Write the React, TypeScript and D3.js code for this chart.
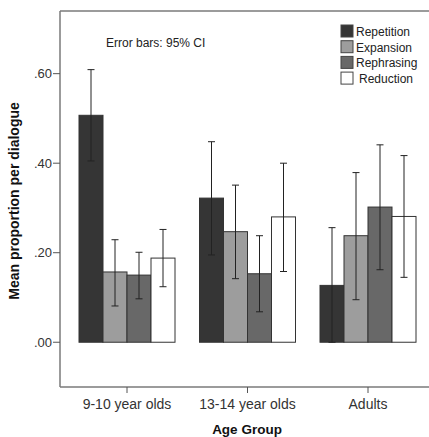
import React, { useEffect, useRef } from 'react'
import * as d3 from 'd3'

const groups = ['9-10 year olds', '13-14 year olds', 'Adults']
const series = ['Repetition', 'Expansion', 'Rephrasing', 'Reduction']
const colors = ['#353535', '#9d9d9d', '#686868', '#ffffff']

// means per group, one array per series
const repetition = [0.507, 0.322, 0.127]
const expansion = [0.157, 0.247, 0.238]
const rephrasing = [0.15, 0.153, 0.302]
const reduction = [0.188, 0.28, 0.281]

// 95% CI low / high
const ciLow = [
    [0.405, 0.195, 0.0],
    [0.081, 0.142, 0.095],
    [0.097, 0.068, 0.162],
    [0.124, 0.158, 0.145],
]
const ciHigh = [
    [0.609, 0.448, 0.256],
    [0.229, 0.351, 0.379],
    [0.201, 0.238, 0.441],
    [0.252, 0.4, 0.417],
]

const yTicks = [0, 0.2, 0.4, 0.6]

export default function App() {
    const svgRef = useRef<SVGSVGElement>(null)

    useEffect(() => {
        const width = 429
        const height = 437
        const left = 60
        const top = 11
        const bottom = 387
        const font = 'Liberation Sans, Arial, sans-serif'

        const svg = d3.select(svgRef.current)
        svg.selectAll('*').remove()
        svg.attr('width', width).attr('height', height)

        const means = [repetition, expansion, rephrasing, reduction]
        const rows: any[] = []
        series.forEach((s, si) => {
            groups.forEach((g, gi) => {
                rows.push({ s, si, g, v: means[si][gi], lo: ciLow[si][gi], hi: ciHigh[si][gi] })
            })
        })

        const x = d3.scalePoint().domain(groups).range([127, 368])
        const xInner = d3.scaleBand().domain(series).range([-48, 48])
        const y = d3.scaleLinear().domain([-0.1, 0.74]).range([bottom, top])

        // frame
        const frame = svg.append('g').attr('stroke', '#7a7a7a').attr('stroke-width', 1.5)
        frame.append('line').attr('x1', left).attr('x2', width).attr('y1', top).attr('y2', top)
        frame.append('line').attr('x1', left).attr('x2', left).attr('y1', top).attr('y2', bottom)
        frame.append('line').attr('x1', left).attr('x2', width).attr('y1', bottom).attr('y2', bottom)

        // y ticks
        const yt = svg.append('g')
        yTicks.forEach((t) => {
            yt.append('line')
                .attr('x1', left - 7).attr('x2', left)
                .attr('y1', y(t)).attr('y2', y(t))
                .attr('stroke', '#555').attr('stroke-width', 1)
            yt.append('text')
                .attr('x', left - 8).attr('y', y(t) + 4.5)
                .attr('text-anchor', 'end')
                .attr('font-family', font).attr('font-size', 13)
                .attr('fill', '#333')
                .text(d3.format('.2f')(t).replace(/^0/, ''))
        })

        // x ticks
        groups.forEach((g) => {
            svg.append('line')
                .attr('x1', x(g)!).attr('x2', x(g)!)
                .attr('y1', bottom).attr('y2', bottom + 6)
                .attr('stroke', '#555')
            svg.append('text')
                .attr('x', x(g)!).attr('y', 409)
                .attr('text-anchor', 'middle')
                .attr('font-family', font).attr('font-size', 14)
                .attr('fill', '#333')
                .text(g)
        })

        // bars
        svg.append('g')
            .selectAll('rect')
            .data(rows)
            .enter()
            .append('rect')
            .attr('x', (d) => x(d.g)! + xInner(d.s)!)
            .attr('y', (d) => y(d.v))
            .attr('width', xInner.bandwidth())
            .attr('height', (d) => y(0) - y(d.v))
            .attr('fill', (d) => colors[d.si])
            .attr('stroke', '#333')
            .attr('stroke-width', 1)

        // error bars
        const eb = svg.append('g').attr('stroke', '#222').attr('stroke-width', 1)
        rows.forEach((d) => {
            const cx = x(d.g)! + xInner(d.s)! + xInner.bandwidth() / 2
            eb.append('line').attr('x1', cx).attr('x2', cx).attr('y1', y(d.lo)).attr('y2', y(d.hi))
            eb.append('line').attr('x1', cx - 3.5).attr('x2', cx + 3.5).attr('y1', y(d.lo)).attr('y2', y(d.lo))
            eb.append('line').attr('x1', cx - 3.5).attr('x2', cx + 3.5).attr('y1', y(d.hi)).attr('y2', y(d.hi))
        })

        // annotation
        svg.append('text')
            .attr('x', 106).attr('y', 47)
            .attr('font-family', font).attr('font-size', 12)
            .attr('fill', '#222')
            .text('Error bars: 95% CI')

        // legend
        const lg = svg.append('g')
        series.forEach((s, i) => {
            lg.append('rect')
                .attr('x', 341).attr('y', 25 + i * 15.7)
                .attr('width', 12).attr('height', 12)
                .attr('fill', colors[i])
                .attr('stroke', '#444')
            lg.append('text')
                .attr('x', s === 'Reduction' ? 359 : 356).attr('y', 36 + i * 15.7)
                .attr('font-family', font).attr('font-size', 12)
                .attr('fill', '#222')
                .text(s)
        })

        // axis titles
        svg.append('text')
            .attr('x', 247).attr('y', 434)
            .attr('text-anchor', 'middle')
            .attr('font-family', font).attr('font-size', 13.5).attr('font-weight', 'bold')
            .attr('fill', '#111')
            .text('Age Group')

        svg.append('text')
            .attr('transform', `translate(19, ${(top + bottom) / 2 + 2}) rotate(-90)`)
            .attr('text-anchor', 'middle')
            .attr('font-family', font).attr('font-size', 14).attr('font-weight', 'bold')
            .attr('fill', '#111')
            .text('Mean proportion per dialogue')
    }, [])

    return (
        <div style={{ position: 'absolute', left: 0, top: 0 }}>
            <svg ref={svgRef} style={{ display: 'block', background: '#fff' }} />
        </div>
    )
}
